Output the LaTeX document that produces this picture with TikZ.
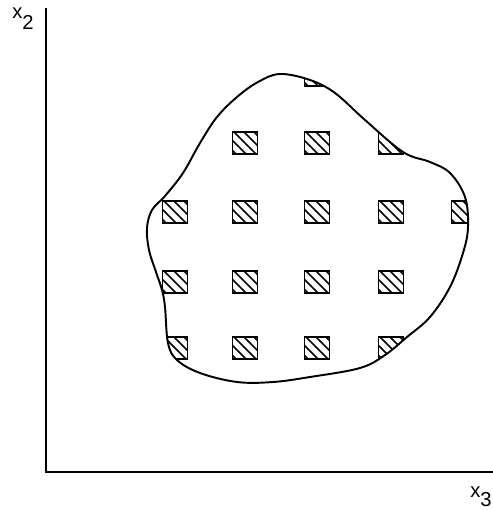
\documentclass[tikz,border=0pt]{standalone}
\usepackage{fontspec}
\newfontfamily\axisfont{Liberation Sans}
\usepackage{tikz}
\usetikzlibrary{positioning}
\colorlet{figInk}{black}

\tikzset{
  axis/.style={figInk, line width=1pt},
  boundary/.style={figInk, line width=1.1pt},
  cell/.style={figInk, line width=1pt},
  axislabel/.style={font=\axisfont\fontsize{11.5}{13}\selectfont,
                    inner sep=0pt, anchor=north west},
}

\begin{document}
\begin{tikzpicture}[x=0.02cm, y=-0.02cm]
  \useasboundingbox (0,0) rectangle (493,510);

  % axes
  \coordinate (origin) at (46,472);
  \coordinate (ytop) at (46,8);
  \coordinate (xend) at (493,472);
  \draw[axis] (ytop) -- (origin) -- (xend);
  \node[axislabel] (lx2) at (12,7) {x\raisebox{-6.5pt}{2}};
  \node[axislabel] (lx3) at (470,486) {x\raisebox{-5.5pt}{3}};

  % region
  \path[save path=\region] plot[smooth cycle, tension=0.6] coordinates {
    (280,74) (310,80) (335,93) (365,120) (403,152) (430,162) (450,173)
    (465,197) (468,227) (463,253) (450,287) (430,317) (407,337) (385,355)
    (360,368) (310,377) (273,382) (237,382) (200,373) (177,360) (168,343)
    (165,307) (162,290) (156,272) (149,250) (147,228) (152,210) (165,196)
    (183,173) (200,143) (217,117) (237,97) (258,82)};

  % hatched cells
  \begin{scope}
    \clip[use path=\region];
    \foreach \cx/\cy in {317/75, 245/143, 317/143, 391/143,
                         175/212, 245/212, 317/212, 391/212, 464/212,
                         175/282, 245/282, 317/282, 391/282,
                         175/348, 245/348, 317/348, 391/348}{
      \begin{scope}
        \clip (\cx-12.5,\cy-11) rectangle (\cx+12.5,\cy+11);
        \foreach \c in {-20,-10,0,10,20}
          \draw[cell] (\cx-14,\cy-14+\c) -- (\cx+14,\cy+14+\c);
      \end{scope}
      \draw[cell] (\cx-12.5,\cy-11) rectangle (\cx+12.5,\cy+11);
    }
  \end{scope}
  \draw[boundary, use path=\region];
\end{tikzpicture}
\end{document}
